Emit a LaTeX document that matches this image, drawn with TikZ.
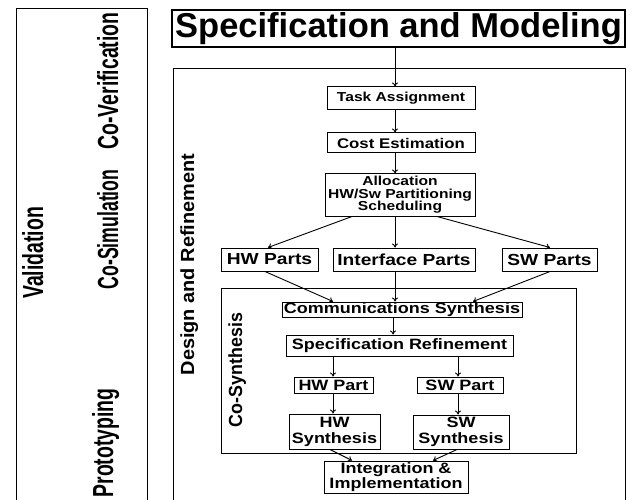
\documentclass[tikz,border=0pt]{standalone}
\usepackage{fontspec}
\setmainfont{Liberation Sans}
\newfontfamily\mfont[FakeStretch=1.2]{Liberation Sans}
\newfontfamily\lfont[FakeStretch=0.67]{Liberation Sans}
\newfontfamily\lnfont[FakeStretch=0.61]{Liberation Sans}
\newfontfamily\dfont[FakeStretch=1.05]{Liberation Sans}
\newfontfamily\cfont[FakeStretch=0.94]{Liberation Sans}
\usetikzlibrary{arrows.meta}
\tikzset{
  box/.style={draw, line width=1pt, inner sep=0pt, align=center, text=black,
    font=\mfont\bfseries\fontsize{15}{15}\selectfont},
  arr/.style={-{To[length=4pt,width=6pt]}, line width=0.9pt},
  frame/.style={line width=1pt},
  leftlab/.style={rotate=90, anchor=base, inner sep=0pt,
    font=\lfont\bfseries\fontsize{29}{29}\selectfont},
  midlab/.style={rotate=90, anchor=base, inner sep=0pt,
    font=\dfont\bfseries\fontsize{19}{19}\selectfont},
}
\begin{document}
\begin{tikzpicture}[x=1pt,y=-1pt]
\path[use as bounding box] (0,0) rectangle (632,500);
% frames
\draw[frame] (16,500) -- (16,9) -- (147,9) -- (147,500);
\draw[frame] (173,500) -- (173,69) -- (625,69) -- (625,500);
\draw[frame] (221,288) rectangle (576,453);
% left labels
\node[leftlab] (val) at (43,253) {Validation};
\node[leftlab] (cover) at (118,81) {Co-Verification};
\node[leftlab, font=\lnfont\bfseries\fontsize{29}{29}\selectfont] (cosim) at (118,229.5) {Co-Simulation};
\node[leftlab] (proto) at (113,443) {Prototyping};
\node[midlab] (design) at (194,264.5) {Design and Refinement};
\node[midlab, font=\cfont\bfseries\fontsize{19}{19}\selectfont] (cosyn) at (242,370) {Co-Synthesis};
% title
\node[draw, line width=1.2pt, inner sep=0pt, minimum width=453pt, minimum height=37pt,
  font=\bfseries\fontsize{34.5}{34.5}\selectfont] (spec) at (398.5,28.5) {Specification and Modeling};
% boxes
\node[box, minimum width=148pt, minimum height=23pt, font=\mfont\bfseries\fontsize{13}{13}\selectfont] (task) at (401,98.5) {Task Assignment};
\node[box, minimum width=148pt, minimum height=20pt, font=\mfont\bfseries\fontsize{14}{14}\selectfont] (cost) at (401,143) {Cost Estimation};
\node[box, minimum width=150pt, minimum height=42pt, font=\mfont\bfseries\fontsize{13}{12.5}\selectfont] (alloc) at (400,195) {Allocation\\HW/Sw Partitioning\\Scheduling};
\node[box, minimum width=97pt, minimum height=23pt, font=\mfont\bfseries\fontsize{16}{16}\selectfont] (hwparts) at (269.5,259.5) {HW Parts};
\node[box, minimum width=142pt, minimum height=23pt, font=\mfont\bfseries\fontsize{16}{16}\selectfont] (ifparts) at (404,259.5) {Interface Parts};
\node[box, minimum width=95pt, minimum height=23pt, font=\mfont\bfseries\fontsize{16}{16}\selectfont] (swparts) at (549.5,259.5) {SW Parts};
\node[box, minimum width=240pt, minimum height=15pt] (comm) at (402,309.5) {Communications Synthesis};
\node[box, minimum width=227pt, minimum height=21pt] (specref) at (399.5,345.5) {Specification Refinement};
\node[box, minimum width=79pt, minimum height=16pt] (hwpart) at (333.5,385) {HW Part};
\node[box, minimum width=86pt, minimum height=16pt] (swpart) at (460,385) {SW Part};
\node[box, minimum width=91pt, minimum height=35pt, font=\mfont\bfseries\fontsize{15}{16}\selectfont] (hwsyn) at (334.5,431.5) {HW\\Synthesis};
\node[box, minimum width=96pt, minimum height=34pt, font=\mfont\bfseries\fontsize{15}{16}\selectfont] (swsyn) at (461,432) {SW\\Synthesis};
\node[box, minimum width=144pt, minimum height=32pt, font=\mfont\bfseries\fontsize{15}{15}\selectfont] (integ) at (396,477) {Integration \&\\Implementation};
% axes
\coordinate (ax) at (395,0);
\coordinate (ax2) at (393,0);
\coordinate (axh) at (333,0);
\coordinate (axs) at (458,0);
% arrows
\draw[arr] (spec.south -| ax) -- (task.north -| ax);
\draw[arr] (task.south -| ax) -- (cost.north -| ax);
\draw[arr] (cost.south -| ax) -- (alloc.north -| ax);
\draw[arr] (alloc.south -| ax) -- (ifparts.north -| ax);
\draw[arr] (ifparts.south -| ax) -- (comm.north -| ax);
\draw[arr] ([xshift=-48pt]alloc.south) -- ([xshift=-1.5pt]hwparts.north);
\draw[arr] ([xshift=37pt]alloc.south) -- ([xshift=0.5pt]swparts.north);
\draw[arr] ([xshift=-4.5pt]hwparts.south) -- ([xshift=-69pt]comm.north);
\draw[arr] ([xshift=0.5pt]swparts.south) -- ([xshift=71pt]comm.north);
\draw[arr] (comm.south -| ax2) -- (specref.north -| ax2);
\draw[arr] (specref.south -| axh) -- (hwpart.north -| axh);
\draw[arr] (specref.south -| axs) -- (swpart.north -| axs);
\draw[arr] (hwpart.south -| axh) -- (hwsyn.north -| axh);
\draw[arr] (swpart.south -| axs) -- (swsyn.north -| axs);
\draw[arr] ([xshift=-4.5pt]hwsyn.south) -- ([xshift=-44pt]integ.north);
\draw[arr] ([xshift=-4pt]swsyn.south) -- ([xshift=37pt]integ.north);
\end{tikzpicture}
\end{document}
